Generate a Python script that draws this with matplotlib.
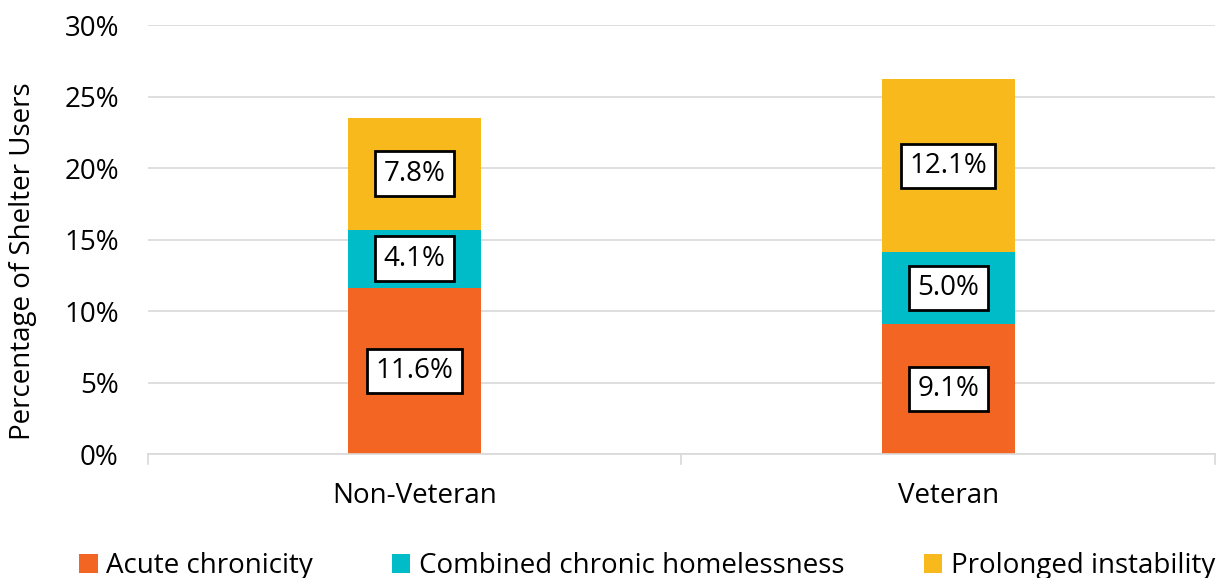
import matplotlib.pyplot as plt
import numpy as np

plt.rcParams["font.family"] = ["Open Sans", "DejaVu Sans"]

categories = ["Non-Veteran", "Veteran"]
series_names = ["Acute chronicity", "Combined chronic homelessness", "Prolonged instability"]
acute = [11.6, 9.1]
combined = [4.1, 5.0]
prolonged = [7.8, 12.1]
colors = ["#F26522", "#00BCC8", "#F7B91C"]

fig = plt.figure(figsize=(12.19, 5.78), dpi=100)
ax = fig.add_axes([0.1214, 0.2145, 0.8753, 0.7422])

x = np.arange(len(categories))
bottom = np.zeros(len(categories))
for name, vals, col in zip(series_names, [acute, combined, prolonged], colors):
    ax.bar(x, vals, 0.25, bottom=bottom, color=col, label=name, zorder=2)
    for xi, b, v in zip(x, bottom, vals):
        ax.text(xi, b + v / 2, f"{v:.1f}%", ha="center", va="center", fontsize=20,
                bbox=dict(boxstyle="square,pad=0.3", fc="white", ec="black", lw=2),
                zorder=3)
    bottom += np.array(vals)

ax.set_xlim(-0.5, 1.5)
ax.set_ylim(0, 30)
ax.set_yticks(range(0, 31, 5))
ax.set_yticklabels([f"{t}%" for t in range(0, 31, 5)], fontsize=20)
ax.set_xticks(x)
ax.set_xticklabels(categories, fontsize=20)
ax.tick_params(axis="x", length=0, pad=20)
ax.tick_params(axis="y", length=0, pad=21)
for xb in [-0.5, 0.5, 1.5]:
    ax.plot([xb, xb], [0, -0.7], color="#D9D9D9", lw=1.2, clip_on=False)

ax.grid(axis="y", color="#D9D9D9", lw=1.2, zorder=0)
for s in ["top", "right", "left"]:
    ax.spines[s].set_visible(False)
ax.spines["bottom"].set_color("#D9D9D9")
ax.spines["bottom"].set_linewidth(1.2)
ax.set_ylabel("Percentage of Shelter Users", fontsize=20)
ax.yaxis.set_label_coords(-0.104, 0.449)

fig.legend(loc="lower center", bbox_to_anchor=(0.531, -0.047), ncol=3, frameon=False,
           fontsize=20, handlelength=0.65, handleheight=0.65, handletextpad=0.32,
           columnspacing=2.85)

fig.savefig("out.png", dpi=100)
